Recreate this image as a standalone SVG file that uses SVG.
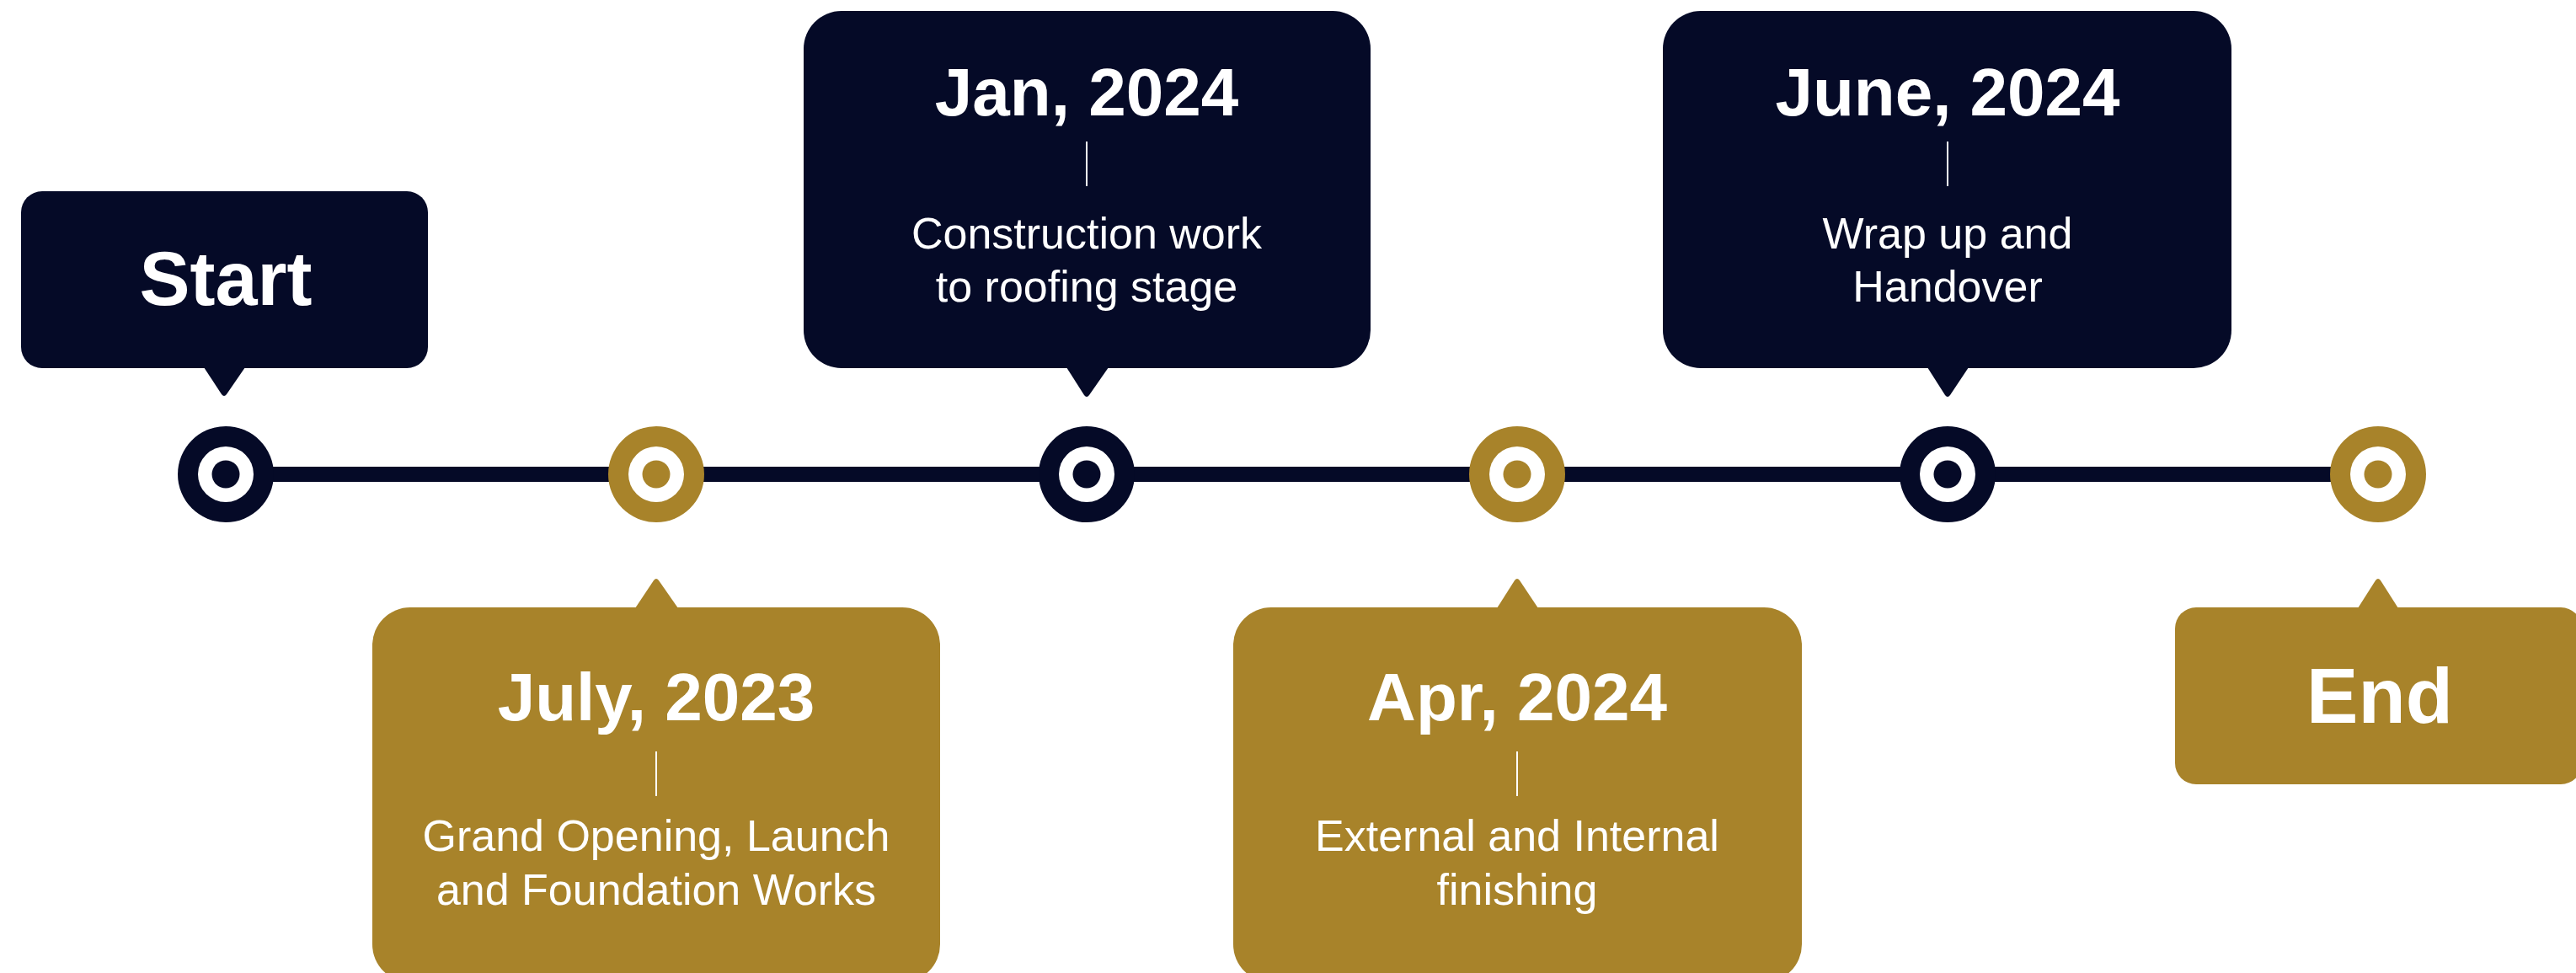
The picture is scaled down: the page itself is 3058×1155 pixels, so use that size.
<svg xmlns="http://www.w3.org/2000/svg" width="3058" height="1155" viewBox="0 0 3058 1155">
  <style>
    .navy { fill: #050A27; }
    .gold { fill: #A8832A; }
    .white { fill: #FFFFFF; }
    .title { font-family: "Liberation Sans", Arial, sans-serif; font-weight: bold; fill: #FFFFFF; text-anchor: middle; }
    .date { font-size: 80px; }
    .big { font-size: 90px; }
    .desc { font-family: "Liberation Sans", Arial, sans-serif; font-size: 52px; fill: #FFFFFF; text-anchor: middle; }
    .sep { stroke: #FFFFFF; stroke-width: 2; }
    .timeline { stroke: #050A27; stroke-width: 18; fill: none; }
  </style>
  <rect width="3058" height="1155" fill="#FFFFFF"/>

  <g id="connectors">
    <line class="timeline" x1="268" y1="563" x2="2823" y2="563"/>
  </g>

  <g id="marker-1"><circle cx="268" cy="563" r="57" class="navy"/><circle cx="268" cy="563" r="33" class="white"/><circle cx="268" cy="563" r="16.5" class="navy"/></g>
  <g id="marker-2"><circle cx="779" cy="563" r="57" class="gold"/><circle cx="779" cy="563" r="33" class="white"/><circle cx="779" cy="563" r="16.5" class="gold"/></g>
  <g id="marker-3"><circle cx="1290" cy="563" r="57" class="navy"/><circle cx="1290" cy="563" r="33" class="white"/><circle cx="1290" cy="563" r="16.5" class="navy"/></g>
  <g id="marker-4"><circle cx="1801" cy="563" r="57" class="gold"/><circle cx="1801" cy="563" r="33" class="white"/><circle cx="1801" cy="563" r="16.5" class="gold"/></g>
  <g id="marker-5"><circle cx="2312" cy="563" r="57" class="navy"/><circle cx="2312" cy="563" r="33" class="white"/><circle cx="2312" cy="563" r="16.5" class="navy"/></g>
  <g id="marker-6"><circle cx="2823" cy="563" r="57" class="gold"/><circle cx="2823" cy="563" r="33" class="white"/><circle cx="2823" cy="563" r="16.5" class="gold"/></g>

  <g id="start">
    <rect x="25" y="227" width="483" height="210" rx="25" class="navy"/>
    <path d="M242,436 L263,468 Q266,472 269,468 L291,436 Z" class="navy"/>
    <text x="268" y="362" class="title big">Start</text>
  </g>

  <g id="jul-2023">
    <rect x="442" y="721" width="674" height="445" rx="45" class="gold"/>
    <path d="M754,722 L776,689 Q779,685 782,689 L805,722 Z" class="gold"/>
    <text x="779" y="855" class="title date">July, 2023</text>
    <line x1="779" y1="892" x2="779" y2="945" class="sep"/>
    <text x="779" y="1010" class="desc">Grand Opening, Launch</text>
    <text x="779" y="1074" class="desc">and Foundation Works</text>
  </g>

  <g id="jan-2024">
    <rect x="954" y="13" width="673" height="424" rx="45" class="navy"/>
    <path d="M1266,436 L1287,469 Q1290,473 1293,469 L1316,436 Z" class="navy"/>
    <text x="1290" y="137" class="title date">Jan, 2024</text>
    <line x1="1290" y1="168" x2="1290" y2="221" class="sep"/>
    <text x="1290" y="295" class="desc">Construction work</text>
    <text x="1290" y="358" class="desc">to roofing stage</text>
  </g>

  <g id="apr-2024">
    <rect x="1464" y="721" width="675" height="445" rx="45" class="gold"/>
    <path d="M1777,722 L1798,689 Q1801,685 1804,689 L1826,722 Z" class="gold"/>
    <text x="1801" y="855" class="title date">Apr, 2024</text>
    <line x1="1801" y1="892" x2="1801" y2="945" class="sep"/>
    <text x="1801" y="1010" class="desc">External and Internal</text>
    <text x="1801" y="1074" class="desc">finishing</text>
  </g>

  <g id="jun-2024">
    <rect x="1974" y="13" width="675" height="424" rx="45" class="navy"/>
    <path d="M2288,436 L2309,469 Q2312,473 2315,469 L2337,436 Z" class="navy"/>
    <text x="2312" y="137" class="title date">June, 2024</text>
    <line x1="2312" y1="168" x2="2312" y2="221" class="sep"/>
    <text x="2312" y="295" class="desc">Wrap up and</text>
    <text x="2312" y="358" class="desc">Handover</text>
  </g>

  <g id="end">
    <rect x="2582" y="721" width="483" height="210" rx="25" class="gold"/>
    <path d="M2799,722 L2820,689 Q2823,685 2826,689 L2847,722 Z" class="gold"/>
    <text x="2825" y="858" class="title" font-size="92">End</text>
  </g>
</svg>
